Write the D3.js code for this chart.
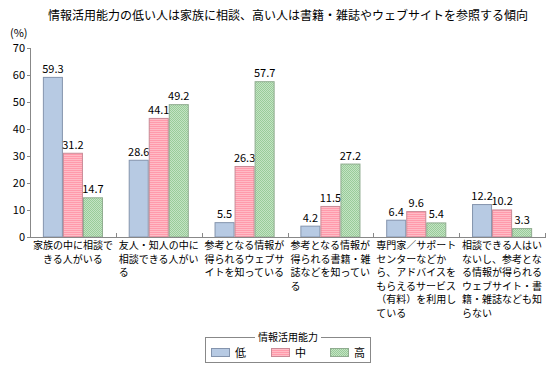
<!DOCTYPE html>
<html><head><meta charset="utf-8">
<script src="https://cdn.jsdelivr.net/npm/d3@7"></script>
<style>body{margin:0;background:#fff}svg{display:block}text{font-family:"Noto Sans CJK JP","Noto Sans",sans-serif;fill:#000}</style>
</head><body><svg id="c" width="556" height="374"></svg>
<script>
const title = "情報活用能力の低い人は家族に相談、高い人は書籍・雑誌やウェブサイトを参照する傾向";
const categories = [
  ["家族の中に相談で","きる人がいる"],
  ["友人・知人の中に","相談できる人がい","る"],
  ["参考となる情報が","得られるウェブサ","イトを知っている"],
  ["参考となる情報が","得られる書籍・雑","誌などを知ってい","る"],
  ["専門家／サポート","センターなどか","ら、アドバイスを","もらえるサービス","（有料）を利用し","ている"],
  ["相談できる人はい","ないし、参考とな","る情報が得られる","ウェブサイト・書","籍・雑誌なども知","らない"]
];
const seriesNames = ["低","中","高"];
const low = [59.3, 28.6, 5.5, 4.2, 6.4, 12.2];
const mid = [31.2, 44.1, 26.3, 11.5, 9.6, 10.2];
const high = [14.7, 49.2, 57.7, 27.2, 5.4, 3.3];
const yTicks = [0,10,20,30,40,50,60,70];
const legendTitle = "情報活用能力";
const yUnit = "(%)";

const svg = d3.select("#c");
const defs = svg.append("defs");
const pStripe = defs.append("pattern").attr("id","pStripe").attr("patternUnits","userSpaceOnUse").attr("width",4).attr("height",2);
pStripe.append("rect").attr("width",4).attr("height",1).attr("fill","#ff9aab");
pStripe.append("rect").attr("y",1).attr("width",4).attr("height",1).attr("fill","#ffbcc6");
const pDot = defs.append("pattern").attr("id","pDot").attr("patternUnits","userSpaceOnUse").attr("width",2).attr("height",2);
pDot.append("rect").attr("width",2).attr("height",2).attr("fill","#c4e3c4");
pDot.append("rect").attr("width",1).attr("height",1).attr("fill","#99cc99");
pDot.append("rect").attr("x",1).attr("y",1).attr("width",1).attr("height",1).attr("fill","#99cc99");

const fills = ["#b7cae3","url(#pStripe)","url(#pDot)"];
const strokes = ["#8494ad","#c98a96","#8fab8f"];
const data = [low, mid, high];

const x = d3.scaleBand().domain(d3.range(categories.length)).range([30,545]).paddingInner(0).paddingOuter(0);
const xs = d3.scaleBand().domain(d3.range(seriesNames.length)).range([x.bandwidth()*0.15, x.bandwidth()*0.85]);
const y = d3.scaleLinear().domain([0,70]).range([237,48]);

svg.append("text").attr("x",288).attr("y",20).attr("text-anchor","middle").attr("font-size",12).text(title);
svg.append("text").attr("x",10).attr("y",37).attr("font-size",11).text(yUnit);

// y axis
const ya = svg.append("g");
ya.append("line").attr("x1",30.5).attr("x2",30.5).attr("y1",y(70)).attr("y2",y(0)).attr("stroke","#888");
yTicks.forEach(t=>{
  ya.append("line").attr("x1",27).attr("x2",31).attr("y1",Math.round(y(t))+0.5).attr("y2",Math.round(y(t))+0.5).attr("stroke","#888");
  ya.append("text").attr("x",25).attr("y",y(t)+4).attr("text-anchor","end").attr("font-size",11).attr("font-family","Liberation Sans, Arial, sans-serif").text(t);
});

// bars
data.forEach((vals,si)=>{
  const g = svg.append("g");
  g.selectAll("rect").data(vals).join("rect")
    .attr("x",(d,i)=>x(i)+xs(si)+0.5).attr("y",d=>y(d)+0.5)
    .attr("width",xs.bandwidth()-1).attr("height",d=>y(0)-y(d)-0.5)
    .attr("fill",fills[si]).attr("stroke",strokes[si]).attr("stroke-width",1);
  g.selectAll("text").data(vals).join("text")
    .attr("x",(d,i)=>x(i)+xs(si)+xs.bandwidth()/2).attr("y",d=>y(d)-4)
    .attr("text-anchor","middle").attr("font-size",11).attr("font-family","Liberation Sans, Arial, sans-serif")
    .text(d=>d.toFixed(1));
});

// x axis
svg.append("line").attr("x1",30).attr("x2",545).attr("y1",237.5).attr("y2",237.5).attr("stroke","#888");
d3.range(categories.length+1).forEach(i=>{
  const xx = Math.round(i<categories.length ? x(i) : 545)+0.5;
  svg.append("line").attr("x1",xx).attr("x2",xx).attr("y1",233).attr("y2",238).attr("stroke","#888");
});

// category labels
categories.forEach((lines,i)=>{
  const cx = x(i)+x.bandwidth()/2;
  const t = svg.append("text").attr("font-size",10);
  lines.forEach((ln,j)=>{
    t.append("tspan").attr("x", i===0 ? cx : cx-40).attr("y",249+j*13.5)
      .attr("text-anchor", i===0 ? "middle":"start").text(ln);
  });
});

// legend
const lg = svg.append("g");
lg.append("rect").attr("x",205.5).attr("y",337.5).attr("width",165).attr("height",25).attr("fill","none").attr("stroke","#888");
lg.append("rect").attr("x",255).attr("y",331).attr("width",66).attr("height",12).attr("fill","#fff");
lg.append("text").attr("x",288).attr("y",341).attr("text-anchor","middle").attr("font-size",10).text(legendTitle);
const lx = [211,271,330];
seriesNames.forEach((s,i)=>{
  lg.append("rect").attr("x",lx[i]+0.5).attr("y",348.5).attr("width",18).attr("height",8).attr("fill",fills[i]).attr("stroke",strokes[i]);
  lg.append("text").attr("x",lx[i]+24).attr("y",357).attr("font-size",11).text(s);
});
</script></body></html>
